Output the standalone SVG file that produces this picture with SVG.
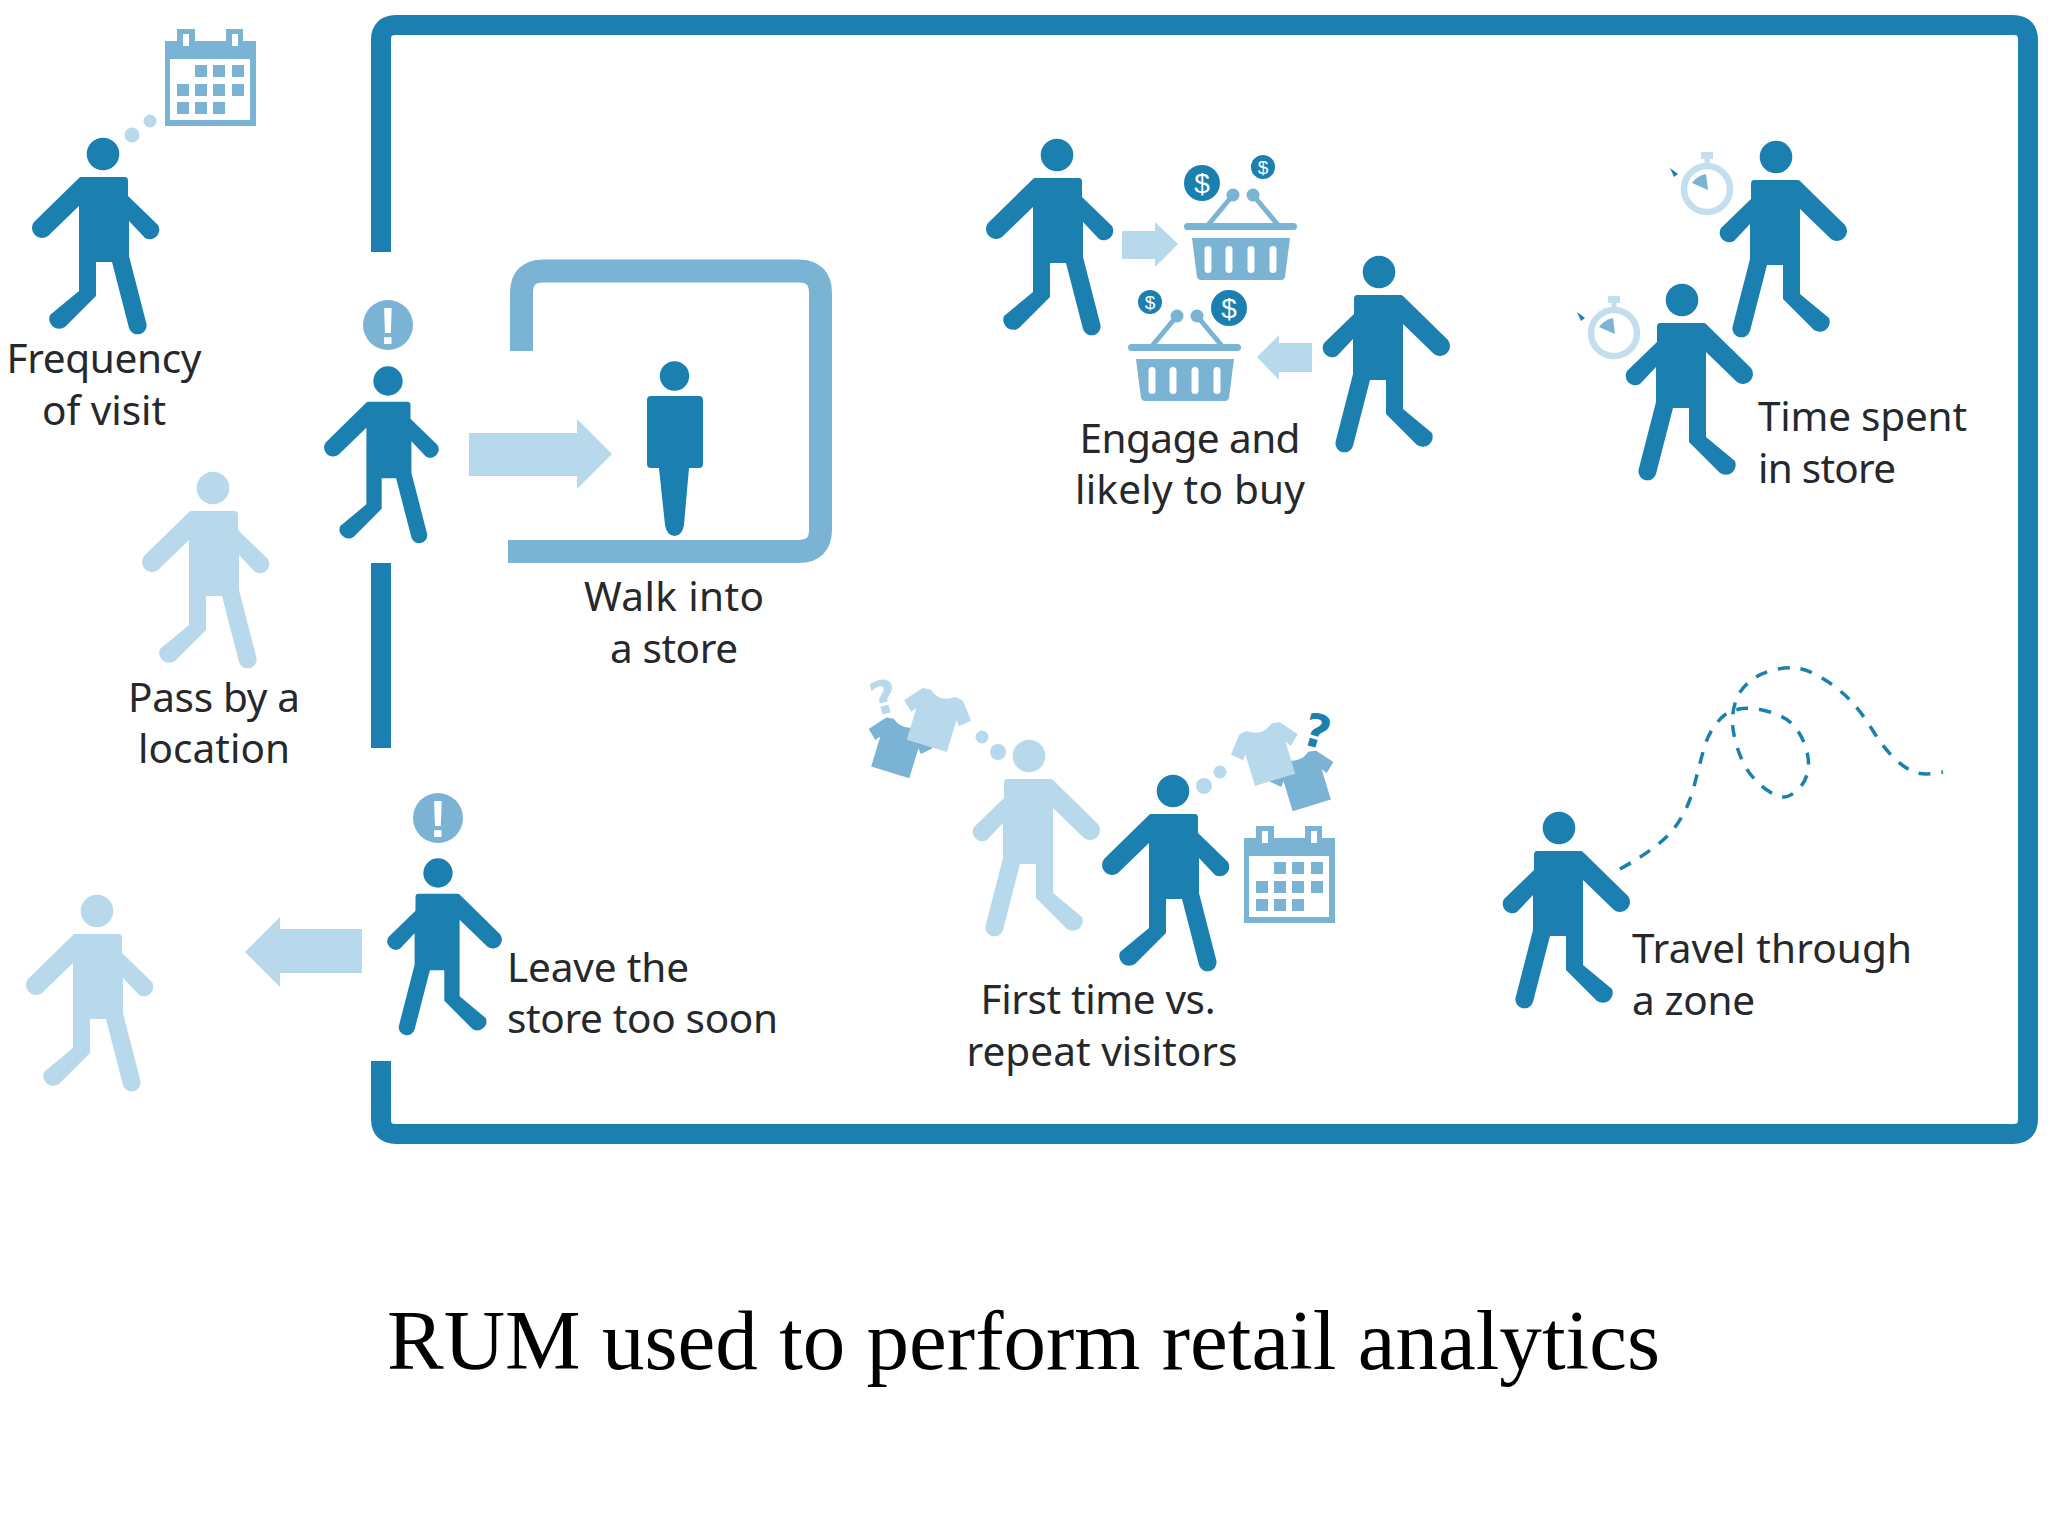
<svg xmlns="http://www.w3.org/2000/svg" width="2048" height="1536" viewBox="0 0 2048 1536">
<style>
.dark{color:#1b80b0}.mid{color:#7ab3d3}.light{color:#b8d9ec}
.f{fill:currentColor}
.lbl{font-family:"Noto Sans","Lato",sans-serif;font-size:40.5px;fill:#26282c}
.mid-t{text-anchor:middle}
.cap{font-family:"Liberation Serif",serif;font-size:85px;fill:#000}
.frame{fill:none;stroke:#1b80b0;stroke-width:20}
.store{fill:none;stroke:#7ab3d3;stroke-width:23}
.cm{fill:#7ab3d3}.cw{fill:#fff}.dl{fill:#b8d9ec}
.coin{font-family:"Liberation Sans",sans-serif;fill:#fff;text-anchor:middle}
.q{font-family:"DejaVu Sans",sans-serif;font-weight:700;font-size:46px;text-anchor:middle}
.ex{font-family:"Liberation Sans",sans-serif;font-weight:700;font-size:52px;fill:#fff;text-anchor:middle}
</style>
<defs>
<g id="walker">
<circle class="f" r="16.3"/>
<path class="f" d="M-22,23H22Q25,23 25,27V42L55,71A9.500,9.500 0 0 1 42,84L26,67V102L43.500,170A9,9 0 0 1 26,174L9,108H-7V142L-38,173A10,10 0 0 1 -53,161L-24,137V52L-55,82A10,10 0 0 1 -69,68L-24,24Q-23,23 -22,23Z"/>
</g>
<g id="calendar">
<path class="cm" d="M0,12H12V0H30V12H61V0H78V12H91V97H0Z"/>
<rect class="cw" x="5" y="30" width="80" height="61"/>
<rect class="cw" x="18" y="5" width="6" height="12"/><rect class="cw" x="67" y="5" width="6" height="12"/>
<g class="cm">
<rect x="30" y="36" width="12" height="12"/><rect x="48" y="36" width="12" height="12"/><rect x="67" y="36" width="12" height="12"/>
<rect x="12" y="55" width="12" height="12"/><rect x="30" y="55" width="12" height="12"/><rect x="48" y="55" width="12" height="12"/><rect x="67" y="55" width="12" height="12"/>
<rect x="12" y="73" width="12" height="12"/><rect x="30" y="73" width="12" height="12"/><rect x="48" y="73" width="12" height="12"/>
</g>
</g>
<g id="basket">
<path d="M24,-28L-1,2M44,-28L69,2" fill="none" stroke="#7ab3d3" stroke-width="5"/>
<circle class="cm" cx="24" cy="-28" r="6.500"/><circle class="cm" cx="44" cy="-28" r="6.500"/>
<rect class="cm" x="-25" y="0" width="113" height="7" rx="3.500"/>
<path class="cm" d="M-17,15H81L76,54Q75,57 72,57H-8Q-11,57 -12,54Z"/>
<rect class="cw" x="-4.500" y="23" width="7" height="27" rx="3.500"/><rect class="cw" x="16.500" y="23" width="7" height="27" rx="3.500"/><rect class="cw" x="38.500" y="23" width="7" height="27" rx="3.500"/><rect class="cw" x="60.500" y="23" width="7" height="27" rx="3.500"/>
</g>
<g id="watch">
<circle r="23" fill="none" stroke="#c3deee" stroke-width="6.500"/>
<rect x="-2.500" y="-32" width="5" height="10" fill="#c3deee"/>
<rect x="-6" y="-37" width="12" height="7" fill="#c3deee"/>
<path class="cm" d="M1,1L-15,-6Q-10,-13 -1,-15Z"/>
<path fill="#1b80b0" d="M-33,-12L-37,-21L-29,-15Z"/>
</g>
<path id="shirt" d="M-13,-27Q0,-17 13,-27L21,-26L35,-9L25,0L21,-5V28H-21V-5L-25,0L-35,-9L-21,-26Z"/>
</defs>

<g id="connectors">
<path id="building" class="frame" d="M381,252V40Q381,25 396,25H2013Q2028,25 2028,40V1119Q2028,1134 2013,1134H396Q381,1134 381,1119V1061M381,563V748"/>
<path class="store" d="M521.500,351V293Q521.500,271 543.500,271H798.500Q820.500,271 820.500,293V529.500Q820.500,551.500 798.500,551.500H508"/>
<path class="dl" d="M469,433H577V419L612,454L577,489V476H469Z"/>
<path class="dl" d="M362,929H280V917L245,952L280,987V973H362Z"/>
<path class="dl" d="M1122,231H1155V222L1178,244L1155,267V259H1122Z"/>
<path class="dl" d="M1312,343H1279V335L1257,357L1279,380V372H1312Z"/>
<path id="route" fill="none" stroke="#1b80b0" stroke-width="3.500" stroke-dasharray="12 11" d="M1620,869Q1660,847 1674,828.500Q1688,810 1694,786.500Q1700,763 1703.500,750Q1707,737 1713.500,727.500Q1720,718 1726,714Q1732,710 1742.500,708.500Q1753,707 1770,712Q1787,717 1795,727Q1803,737 1806.500,750Q1810,763 1807.500,773Q1805,783 1797.500,790Q1790,797 1783.500,797Q1777,797 1767,790Q1757,783 1749.500,773Q1742,763 1737,746.500Q1732,730 1732.500,719Q1733,708 1736.500,699Q1740,690 1748.500,682.500Q1757,675 1770,671Q1783,667 1795,668Q1807,669 1822,678Q1837,687 1848.500,698.500Q1860,710 1871.500,728.500Q1883,747 1893,757Q1903,767 1913,771.500Q1923,776 1943,772"/>
</g>

<g id="frequency">
<use href="#walker" class="dark" transform="translate(103,154)"/>
<circle class="dl" cx="132" cy="135" r="7.500"/><circle class="dl" cx="150" cy="121" r="6.500"/>
<use href="#calendar" transform="translate(165,29)"/>
<text class="lbl mid-t" x="104" y="373" textLength="195">Frequency</text>
<text class="lbl mid-t" x="104" y="425" textLength="124">of visit</text>
</g>
<g id="pass-by">
<use href="#walker" class="light" transform="translate(213,488)"/>
<text class="lbl mid-t" x="214" y="712" textLength="172">Pass by a</text>
<text class="lbl mid-t" x="214" y="763" textLength="152">location</text>
</g>
<g id="enter">
<circle class="cm" cx="388" cy="325" r="25"/>
<text class="ex" x="388" y="344">!</text>
<use href="#walker" class="dark" transform="translate(388,381) scale(.9)"/>
</g>
<g id="store-person">
<circle fill="#1b80b0" cx="674.500" cy="376" r="14.700"/>
<path fill="#1b80b0" d="M651,396H699Q703,396 703,400V464Q703,468 699,468H689L684,525Q682,536 674.500,536Q667,536 665,525L659,468H651Q647,468 647,464V400Q647,396 651,396Z"/>
<text class="lbl mid-t" x="674" y="611" textLength="180">Walk into</text>
<text class="lbl mid-t" x="674" y="663" textLength="128">a store</text>
</g>
<g id="engage">
<use href="#walker" class="dark" transform="translate(1057,155)"/>
<use href="#walker" class="dark" transform="translate(1379,272) scale(-1,1)"/>
<use href="#basket" transform="translate(1209,223)"/>
<use href="#basket" transform="translate(1153,344)"/>
<circle fill="#1b80b0" cx="1202" cy="183" r="18"/><text class="coin" x="1202" y="193" font-size="28">$</text>
<circle fill="#1b80b0" cx="1263" cy="167" r="12"/><text class="coin" x="1263" y="174" font-size="19">$</text>
<circle fill="#1b80b0" cx="1150" cy="302" r="12"/><text class="coin" x="1150" y="309" font-size="19">$</text>
<circle fill="#1b80b0" cx="1229" cy="308" r="18"/><text class="coin" x="1229" y="318" font-size="28">$</text>
<text class="lbl mid-t" x="1190" y="453" textLength="221">Engage and</text>
<text class="lbl mid-t" x="1190" y="504" textLength="230">likely to buy</text>
</g>
<g id="time-spent">
<use href="#watch" transform="translate(1707,189)"/>
<use href="#watch" transform="translate(1614,333)"/>
<use href="#walker" class="dark" transform="translate(1776,157) scale(-1,1)"/>
<use href="#walker" class="dark" transform="translate(1682,300) scale(-1,1)"/>
<text class="lbl" x="1758" y="431" textLength="209">Time spent</text>
<text class="lbl" x="1758" y="483" textLength="138">in store</text>
</g>
<g id="leave">
<circle class="cm" cx="438" cy="818" r="25"/>
<text class="ex" x="438" y="837">!</text>
<use href="#walker" class="dark" transform="translate(438,873) scale(-.9,.9)"/>
<text class="lbl" x="507" y="982" textLength="182">Leave the</text>
<text class="lbl" x="507" y="1033" textLength="271">store too soon</text>
</g>
<g id="left-store">
<use href="#walker" class="light" transform="translate(97,911)"/>
</g>
<g id="first-time">
<use href="#shirt" fill="#7ab3d3" transform="translate(898,747) rotate(17) scale(.95)"/>
<use href="#shirt" fill="#b8d9ec" transform="translate(935,719) rotate(17)"/>
<text class="q" fill="#b8d9ec" transform="translate(888,713) rotate(-15)">?</text>
<circle class="dl" cx="982" cy="737" r="6.500"/><circle class="dl" cx="998" cy="752" r="8"/>
<use href="#walker" class="light" transform="translate(1029,756) scale(-1,1)"/>
<use href="#walker" class="dark" transform="translate(1173,791)"/>
<circle class="dl" cx="1204" cy="786" r="8"/><circle class="dl" cx="1220" cy="772" r="6.500"/>
<use href="#shirt" fill="#7ab3d3" transform="translate(1304,780) rotate(-17) scale(.95)"/>
<use href="#shirt" fill="#b8d9ec" transform="translate(1267,753) rotate(-17)"/>
<text class="q" fill="#1b80b0" transform="translate(1313,747) rotate(15)">?</text>
<use href="#calendar" transform="translate(1244,826)"/>
<text class="lbl mid-t" x="1098" y="1014" textLength="235">First time vs.</text>
<text class="lbl mid-t" x="1102" y="1066" textLength="271">repeat visitors</text>
</g>
<g id="travel">
<use href="#walker" class="dark" transform="translate(1559,828) scale(-1,1)"/>
<text class="lbl" x="1632" y="963" textLength="280">Travel through</text>
<text class="lbl" x="1632" y="1015" textLength="123">a zone</text>
</g>
<text id="caption" class="cap" x="387" y="1369" textLength="1273">RUM used to perform retail analytics</text>
</svg>
